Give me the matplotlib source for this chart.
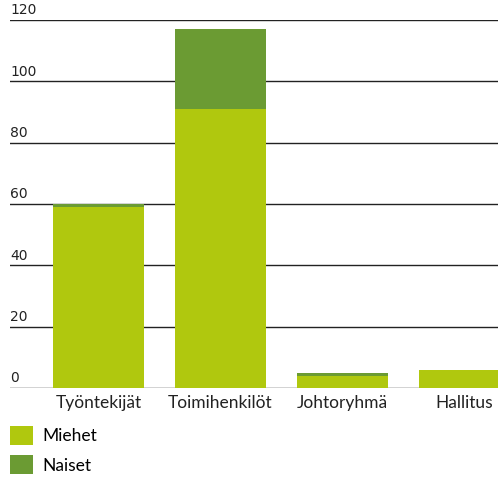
import matplotlib.pyplot as plt
import numpy as np

plt.rcParams['font.family'] = ['Lato', 'DejaVu Sans']

LIGHT = "#b0c80e"
DARK = "#6b9b33"

kategoriat = ["Työntekijät", "Toimihenkilöt", "Johtoryhmä", "Hallitus"]
miehet = [59, 91, 4, 6]
naiset = [1, 26, 1, 0]
y_ticks = [0, 20, 40, 60, 80, 100, 120]

fig = plt.figure(figsize=(4.98, 4.79), dpi=100)
ax = fig.add_axes([10/498, (479-388)/479, 488/498, 368/479])

x = np.arange(len(kategoriat))
ax.bar(x, miehet, width=0.745, color=LIGHT, label="Miehet", zorder=3)
ax.bar(x, naiset, width=0.745, bottom=miehet, color=DARK, label="Naiset", zorder=3)

for t in y_ticks:
    ax.axhline(t, color="#222222", lw=1.0, zorder=2)
    ax.text(0, t + 0.9, str(t), transform=ax.get_yaxis_transform(),
            ha="left", va="bottom", fontsize=10, color="#222222",
            family="DejaVu Sans")

ax.set_xlim(-0.725, 3.275)
ax.set_ylim(0, 120)
ax.set_xticks(x)
ax.set_xticklabels(kategoriat, fontsize=12.5, color="#222222")
ax.tick_params(axis="x", length=0, pad=5)
ax.set_yticks([])
for s in ax.spines.values():
    s.set_visible(False)

fig.legend(loc="upper left", bbox_to_anchor=(10/498, 1 - 426/479), frameon=False,
           fontsize=12.5, handlelength=1.3, handleheight=1.3,
           handletextpad=0.55, labelspacing=0.6, borderaxespad=0, borderpad=0)

fig.savefig("out.png", dpi=100)
